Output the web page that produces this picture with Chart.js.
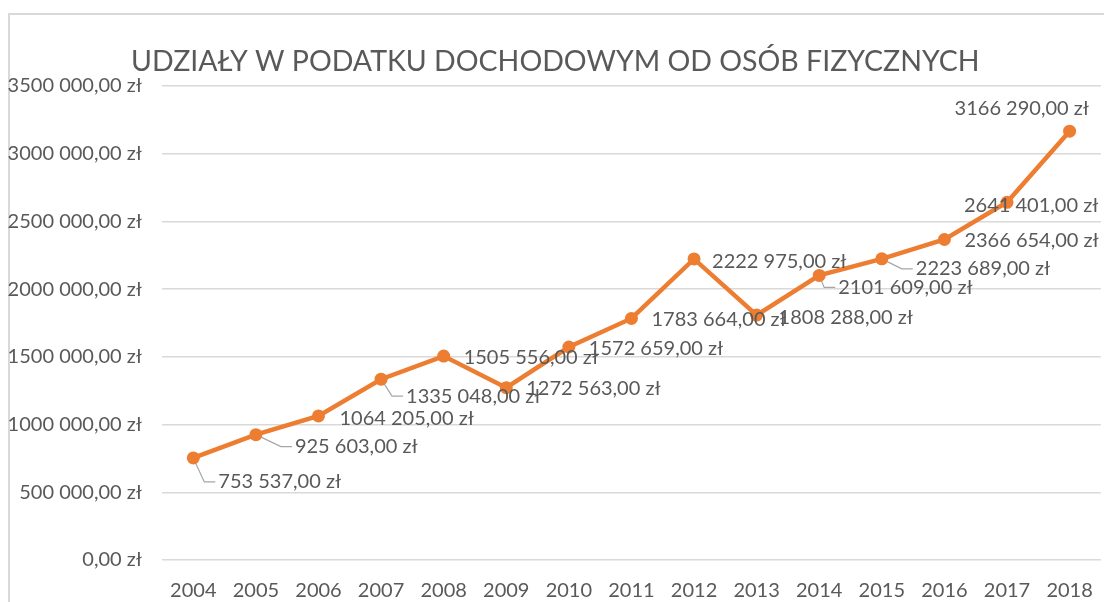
<!DOCTYPE html>
<html lang="pl">
<head>
<meta charset="utf-8">
<title>Udziały w podatku dochodowym od osób fizycznych</title>
<script src="https://cdn.jsdelivr.net/npm/chart.js@4.4.1/dist/chart.umd.min.js"></script>
<style>
    html, body { margin: 0; padding: 0; background: #fff; overflow: hidden; }
    #frame {
        position: absolute; left: 8px; top: 13px; width: 1200px; height: 700px;
        border-top: 2px solid #d9d9d9; border-left: 2px solid #d9d9d9;
    }
    #wrap { position: absolute; left: 0; top: 0; width: 1112px; height: 602px; }
</style>
</head>
<body>
<div id="frame"></div>
<div id="wrap"><canvas id="chart" width="1112" height="602"></canvas></div>
<script>
// Data
const years = ['2004', '2005', '2006', '2007', '2008', '2009', '2010', '2011',
               '2012', '2013', '2014', '2015', '2016', '2017', '2018'];
const shares = [753537, 925603, 1064205, 1335048, 1505556, 1272563, 1572659, 1783664,
                2222975, 1808288, 2101609, 2223689, 2366654, 2641401, 3166290];
const yTicks = [0, 500000, 1000000, 1500000, 2000000, 2500000, 3000000, 3500000];
const chartTitle = 'UDZIAŁY W PODATKU DOCHODOWYM OD OSÓB FIZYCZNYCH';

// label placement relative to each point: [dx, dy, leader line?]
const labelOffsets = [
    [25, 24, true], [39, 12, true], [21, 3, false], [25, 17, true], [20, 1, false],
    [20, 1, false], [20, 2, false], [20, 1, false], [18, 3, false], [22, 2, false],
    [19, 12, true], [34, 10, true], [20, 1, false], [-43, 3, false], [-115, -23, false]
];

const FONT = "Lato, 'Open Sans', sans-serif";
const TEXT = '#595959';
const ORANGE = '#ed7d31';

function fmtZl(v) {
    let s;
    if (v >= 1000) {
        const rest = String(v % 1000).padStart(3, '0');
        s = Math.floor(v / 1000) + ' ' + rest;
    } else {
        s = String(v);
    }
    return s + ',00 zł';
}

// data labels with leader lines (Excel style)
const valueLabels = {
    id: 'valueLabels',
    beforeDatasetsDraw(chart) {
        const ctx = chart.ctx;
        const meta = chart.getDatasetMeta(0);
        ctx.save();
        ctx.strokeStyle = '#a6a6a6';
        ctx.lineWidth = 1.2;
        meta.data.forEach((pt, i) => {
            const [dx, dy, leader] = labelOffsets[i];
            if (!leader) return;
            const lx = pt.x + dx, ly = pt.y + dy;
            ctx.beginPath();
            ctx.moveTo(pt.x, pt.y);
            ctx.lineTo(lx - 14, ly);
            ctx.lineTo(lx - 3, ly);
            ctx.stroke();
        });
        ctx.restore();
    },
    afterDatasetsDraw(chart) {
        const ctx = chart.ctx;
        const meta = chart.getDatasetMeta(0);
        ctx.save();
        ctx.font = '20px ' + FONT;
        ctx.fillStyle = TEXT;
        ctx.textAlign = 'left';
        ctx.textBaseline = 'middle';
        meta.data.forEach((pt, i) => {
            const [dx, dy] = labelOffsets[i];
            ctx.fillText(fmtZl(shares[i]), pt.x + dx, pt.y + dy);
        });
        ctx.restore();
    }
};

new Chart(document.getElementById('chart'), {
    type: 'line',
    data: {
        labels: years,
        datasets: [{
            data: shares,
            borderColor: ORANGE,
            backgroundColor: ORANGE,
            borderWidth: 4.5,
            pointRadius: 6.5,
            pointBackgroundColor: ORANGE,
            pointBorderWidth: 0,
            tension: 0
        }]
    },
    options: {
        responsive: false,
        animation: false,
        layout: { padding: { left: 0, right: 1.5, top: 0, bottom: 0 } },
        plugins: {
            legend: { display: false },
            tooltip: { enabled: false },
            title: {
                display: true,
                text: chartTitle,
                color: TEXT,
                font: { family: FONT, size: 28.5, weight: 'normal', lineHeight: 1.2 },
                padding: { top: 45, bottom: 6.8 }
            }
        },
        scales: {
            x: {
                offset: true,
                grid: { display: false, drawTicks: false },
                border: { display: false },
                ticks: { color: TEXT, font: { family: FONT, size: 20 }, padding: 19, maxRotation: 0 },
                afterFit: (s) => { s.height = 42; }
            },
            y: {
                min: 0,
                max: 3500000,
                afterBuildTicks: (s) => { s.ticks = yTicks.map(v => ({ value: v })); },
                grid: { color: '#d9d9d9', lineWidth: 1.5, drawTicks: false },
                border: { display: false },
                ticks: {
                    color: TEXT,
                    font: { family: FONT, size: 20 },
                    padding: 20,
                    callback: (v) => fmtZl(v)
                },
                afterFit: (s) => { s.width = 162; }
            }
        }
    },
    plugins: [valueLabels]
});
</script>
</body>
</html>
